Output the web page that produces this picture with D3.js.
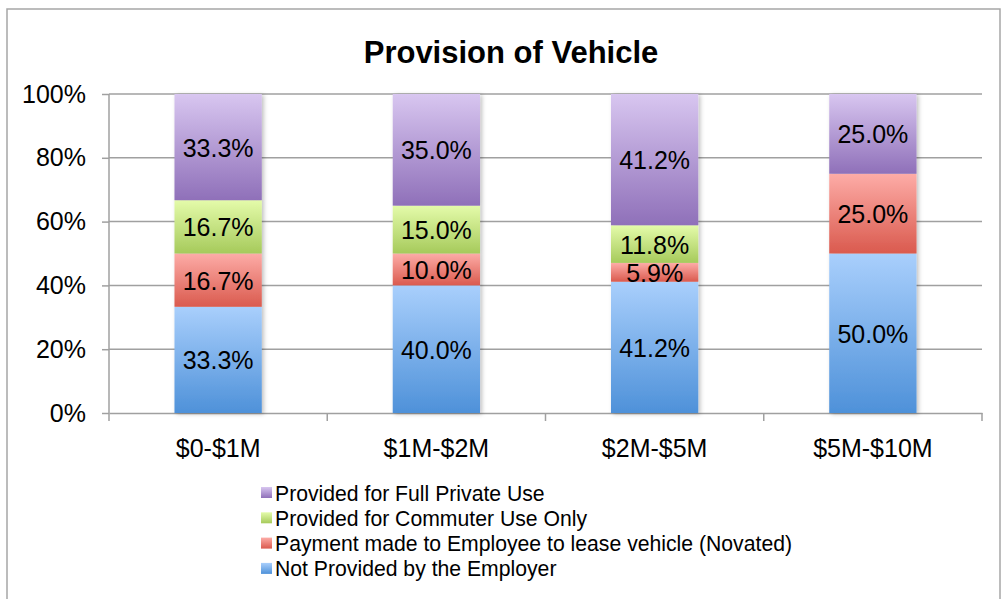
<!DOCTYPE html>
<html><head><meta charset="utf-8">
<script src="https://cdn.jsdelivr.net/npm/d3@7"></script>
<style>
body{margin:0;background:#fff;}
svg{display:block;font-family:"Liberation Sans",Arial,Helvetica,sans-serif;}
</style></head>
<body>
<svg id="chart" width="1005" height="599"></svg>
<script>
const categories = ["$0-$1M", "$1M-$2M", "$2M-$5M", "$5M-$10M"];
const seriesNames = [
  "Not Provided by the Employer",
  "Payment made to Employee to lease vehicle (Novated)",
  "Provided for Commuter Use Only",
  "Provided for Full Private Use"
];
const notProvided = [33.3, 40.0, 41.2, 50.0];
const novated = [16.7, 10.0, 5.9, 25.0];
const commuter = [16.7, 15.0, 11.8, 0];
const fullPrivate = [33.3, 35.0, 41.2, 25.0];
const yTicks = [0, 0.2, 0.4, 0.6, 0.8, 1.0];
const title = "Provision of Vehicle";

const seriesValues = [notProvided, novated, commuter, fullPrivate];
const gradients = [
  ["#a9cffc", "#4e91d9"],
  ["#fdaca7", "#da5a4e"],
  ["#e4fbaa", "#a6ca5b"],
  ["#d8c6f0", "#8f70b9"]
];

const svg = d3.select("#chart");
const W = 1005, H = 599;
const margin = {left: 109, right: 23, top: 94, bottom: 186};
const x0 = margin.left, x1 = W - margin.right;
const y0 = H - margin.bottom, y1 = margin.top;
const FONT = "'Liberation Sans',Arial,sans-serif";

// frame
svg.append("rect").attr("x", 7).attr("y", 9).attr("width", 993).attr("height", 600)
  .attr("fill", "#fff").attr("stroke", "#a6a6a6").attr("stroke-width", 1.5);

const defs = svg.append("defs");
gradients.forEach((g, i) => {
  const lg = defs.append("linearGradient").attr("id", "g" + i)
    .attr("x1", 0).attr("y1", 0).attr("x2", 0).attr("y2", 1);
  lg.append("stop").attr("offset", "0%").attr("stop-color", g[0]);
  lg.append("stop").attr("offset", "100%").attr("stop-color", g[1]);
});
const f = defs.append("filter").attr("id", "shadow").attr("x", "-20%").attr("y", "-5%").attr("width", "140%").attr("height", "110%");
f.append("feDropShadow").attr("dx", 2).attr("dy", 1).attr("stdDeviation", 2).attr("flood-color", "#000").attr("flood-opacity", 0.25);

const table = categories.map((c, i) => {
  const o = {cat: c};
  seriesNames.forEach((s, j) => o[s] = seriesValues[j][i]);
  return o;
});
const stack = d3.stack().keys(seriesNames).offset(d3.stackOffsetExpand);
const stacked = stack(table);

const x = d3.scaleBand().domain(categories).range([x0, x1]).paddingInner(0.6).paddingOuter(0.3);
const xCat = d3.scaleBand().domain(categories).range([x0, x1]);
const y = d3.scaleLinear().domain([0, 1]).range([y0, y1]);

// gridlines
svg.append("g").selectAll("line").data(yTicks.slice(1)).join("line")
  .attr("x1", x0).attr("x2", x1).attr("y1", d => y(d)).attr("y2", d => y(d))
  .attr("stroke", "#a0a0a0").attr("stroke-width", 1.5);

// y axis
const yAxis = svg.append("g").attr("transform", `translate(${x0},0)`)
  .call(d3.axisLeft(y).tickValues(yTicks).tickFormat(d3.format(".0%")).tickSize(7).tickPadding(16));
yAxis.select(".domain").attr("stroke", "#a0a0a0").attr("stroke-width", 1.5).attr("d", `M0,${y0 + 8}V${y1}`);
yAxis.selectAll(".tick line").attr("stroke", "#a0a0a0").attr("stroke-width", 1.5);
yAxis.selectAll(".tick text").attr("font-size", 25).attr("fill", "#000").attr("font-family", FONT);

// x axis
const xAxis = svg.append("g").attr("transform", `translate(0,${y0})`)
  .call(d3.axisBottom(xCat).tickSize(0).tickPadding(26));
xAxis.select(".domain").attr("stroke", "#a0a0a0").attr("stroke-width", 1.5);
xAxis.selectAll(".tick text").attr("font-size", 25).attr("fill", "#000").attr("font-family", FONT);
svg.append("g").selectAll("line").data(categories.slice(1).map(c => xCat(c)).concat([x1])).join("line")
  .attr("x1", d => d).attr("x2", d => d).attr("y1", y0).attr("y2", y0 + 8)
  .attr("stroke", "#a0a0a0").attr("stroke-width", 1.5);

// bars
const barsG = svg.append("g").attr("filter", "url(#shadow)");
stacked.forEach((layer, i) => {
  barsG.append("g").selectAll("rect").data(layer.filter(d => d[1] - d[0] > 0)).join("rect")
    .attr("x", d => x(d.data.cat)).attr("width", x.bandwidth())
    .attr("y", d => y(d[1])).attr("height", d => y(d[0]) - y(d[1]))
    .attr("fill", `url(#g${i})`);
});
stacked.forEach((layer, i) => {
  svg.append("g").selectAll("text").data(layer.filter(d => d[1] - d[0] > 0)).join("text")
    .attr("x", d => x(d.data.cat) + x.bandwidth() / 2)
    .attr("y", d => (y(d[0]) + y(d[1])) / 2 + 9.5)
    .attr("text-anchor", "middle").attr("font-size", 25).attr("fill", "#000")
    .text(d => seriesValues[i][categories.indexOf(d.data.cat)].toFixed(1) + "%");
});

// title
svg.append("text").attr("x", 511).attr("y", 63).attr("text-anchor", "middle")
  .attr("font-size", 31).attr("font-weight", "bold").text(title);

// legend
const legendOrder = seriesNames.slice().reverse();
const lg = svg.append("g").selectAll("g").data(legendOrder).join("g")
  .attr("transform", (d, i) => `translate(261,${493 + i * 25.3})`);
lg.append("rect").attr("x", 0).attr("y", -6).attr("width", 11).attr("height", 11)
  .attr("fill", d => `url(#g${seriesNames.indexOf(d)})`);
lg.append("text").attr("x", 14).attr("y", 7.5).attr("font-size", 21.2).attr("fill", "#000").text(d => d);
</script>
</body></html>
